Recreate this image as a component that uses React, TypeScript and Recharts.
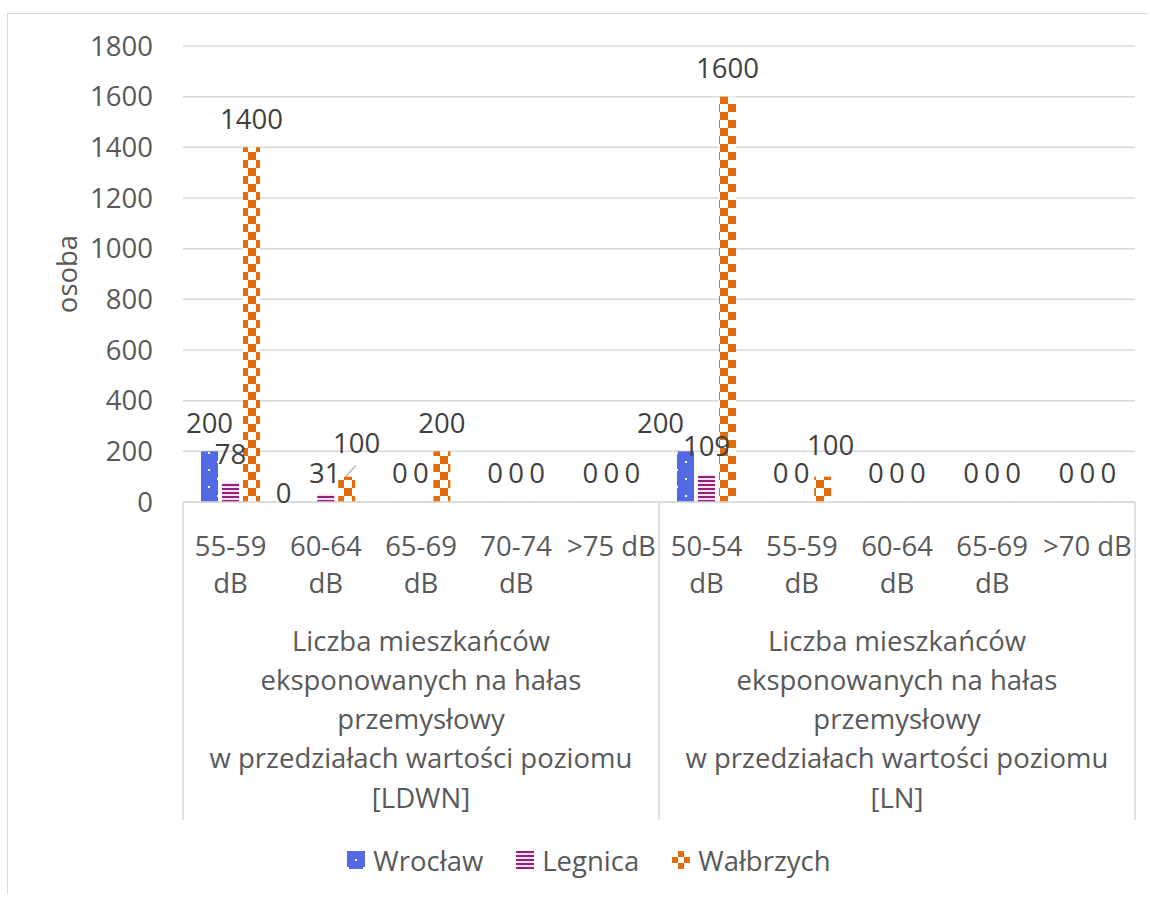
import React from 'react';
import { BarChart, Bar, XAxis, YAxis, CartesianGrid, LabelList, Legend } from 'recharts';

const categories = ['55-59 dB', '60-64 dB', '65-69 dB', '70-74 dB', '>75 dB', '50-54 dB', '55-59 dB', '60-64 dB', '65-69 dB', '>70 dB'];
const wroclaw = [200, 0, 0, 0, 0, 200, 0, 0, 0, 0];
const legnica = [78, 31, 0, 0, 0, 109, 0, 0, 0, 0];
const walbrzych = [1400, 100, 200, 0, 0, 1600, 100, 0, 0, 0];
const yTicks = [0, 200, 400, 600, 800, 1000, 1200, 1400, 1600, 1800];
const groupTitleLines = ['Liczba mieszkańców', 'eksponowanych na hałas', 'przemysłowy', 'w przedziałach wartości poziomu'];
const groupUnits = ['[LDWN]', '[LN]'];
const seriesNames = ['Wrocław', 'Legnica', 'Wałbrzych'];
const seriesKeys = ['wroclaw', 'legnica', 'walbrzych'];
const patternIds = ['pWro', 'pLeg', 'pWal'];

// label displacement (style only), mimicking the original's collision avoidance
const labelNudges: Record<string, { dx: number; dy: number; leader?: boolean }> = {
  'wroclaw-1': { dx: -21, dy: 20 },
  'legnica-1': { dx: -1, dy: 7 },
  'walbrzych-1': { dx: 10, dy: -5, leader: true },
  'wroclaw-5': { dx: -25, dy: 0 },
  'walbrzych-6': { dx: 8, dy: -3 },
};

const data = categories.map((c, i) => ({
  key: 'c' + i,
  label: c,
  wroclaw: wroclaw[i],
  legnica: legnica[i],
  walbrzych: walbrzych[i],
}));

const FONT = '"Open Sans", sans-serif';
const AXIS_COLOR = '#595959';
const LABEL_COLOR = '#404040';
const GRID = '#d9d9d9';
const FS = 27.5;

function splitLabel(s: string): string[] {
  if (s.startsWith('>')) return [s];
  const idx = s.indexOf(' ');
  return idx > 0 ? [s.slice(0, idx), s.slice(idx + 1)] : [s];
}

function CatTick(props: any) {
  const { x, y, payload } = props;
  const i: number = props.index ?? payload.index ?? 0;
  const off: number = payload.offset ?? 0;
  const lines = splitLabel(categories[i]);
  const groupIdx = i === 2 ? 0 : i === 7 ? 1 : -1;
  const gLines = groupIdx >= 0 ? [...groupTitleLines, groupUnits[groupIdx]] : [];
  return (
    <g>
      {lines.map((l, k) => (
        <text key={k} x={x} y={y + 43 + k * 37} textAnchor="middle" dominantBaseline="central" fill={AXIS_COLOR} fontSize={FS} fontFamily={FONT}>
          {l}
        </text>
      ))}
      {(i === 0 || i === 5) && <line x1={x - off} x2={x - off} y1={y} y2={y + 318} stroke={GRID} strokeWidth={1.5} />}
      {i === 9 && <line x1={x + off} x2={x + off} y1={y} y2={y + 318} stroke={GRID} strokeWidth={1.5} />}
      {gLines.map((l, k) => (
        <text key={'g' + k} x={x} y={y + 138 + k * 39.3} textAnchor="middle" dominantBaseline="central" fill={AXIS_COLOR} fontSize={FS} fontFamily={FONT}>
          {l}
        </text>
      ))}
    </g>
  );
}

const makeValueLabel = (seriesKey: string) => (p: any) => {
  const { x, y, width, value, index } = p;
  const n = labelNudges[`${seriesKey}-${index}`] || { dx: 0, dy: 0 };
  const cx = Number(x) + Number(width) / 2;
  const top = Number(y);
  return (
    <g>
      {n.leader && <line x1={cx - 1} y1={top} x2={cx + 9} y2={top - 11} stroke="#a6a6a6" strokeWidth={1.2} />}
      <text x={cx + n.dx} y={top - 29 + n.dy} textAnchor="middle" dominantBaseline="central" fill={LABEL_COLOR} fontSize={FS} fontFamily={FONT}>
        {String(value)}
      </text>
    </g>
  );
};

const renderLegend = () => (
  <div style={{ display: 'flex', justifyContent: 'center', alignItems: 'center', height: 40, gap: 33, fontSize: FS, color: AXIS_COLOR, fontFamily: FONT }}>
    {seriesNames.map((n, i) => (
      <div key={n} style={{ display: 'flex', alignItems: 'center', gap: 8 }}>
        <svg width={18} height={18} style={{ display: 'block' }}>
          <rect x={0} y={0} width={18} height={18} fill={`url(#${patternIds[i]}L)`} />
        </svg>
        <span>{n}</span>
      </div>
    ))}
  </div>
);

const YLabel = (p: any) => {
  const vb = p.viewBox || { x: 43, y: 46, width: 140, height: 456 };
  const cx = vb.x + 23;
  const cy = vb.y + vb.height / 2;
  return (
    <text x={cx} y={cy} transform={`rotate(-90 ${cx} ${cy})`} textAnchor="middle" dominantBaseline="central" fill={AXIS_COLOR} fontSize={FS} fontFamily={FONT}>
      osoba
    </text>
  );
};

const Patterns = () => (
  <svg width={0} height={0} style={{ position: 'absolute', left: 0, top: 0 }}>
    <defs>
      <pattern id="pWro" patternUnits="userSpaceOnUse" width={18} height={17}>
        <rect width={18} height={17} fill="#5469e4" />
        <rect x={1} y={2} width={2} height={2} fill="#ffffff" />
        <rect x={10} y={10} width={2} height={2} fill="#ffffff" />
      </pattern>
      <pattern id="pLeg" patternUnits="userSpaceOnUse" width={4} height={4}>
        <rect width={4} height={4} fill="#f4e2ee" />
        <rect y={0} width={4} height={2} fill="#951f7c" />
      </pattern>
      <pattern id="pWal" patternUnits="userSpaceOnUse" width={16} height={16}>
        <rect width={16} height={16} fill="#ffffff" />
        <rect x={0} y={0} width={8} height={8} fill="#e46c0a" />
        <rect x={8} y={8} width={8} height={8} fill="#e46c0a" />
      </pattern>
      <pattern id="pWroL" patternUnits="userSpaceOnUse" width={18} height={18}>
        <rect width={18} height={18} fill="#5469e4" />
        <rect x={0} y={16} width={2} height={2} fill="#ffffff" />
        <rect x={8} y={8} width={2} height={2} fill="#ffffff" />
        <rect x={16} y={16} width={2} height={2} fill="#ffffff" />
      </pattern>
      <pattern id="pLegL" patternUnits="userSpaceOnUse" width={4} height={4}>
        <rect width={4} height={4} fill="#f4e2ee" />
        <rect y={0} width={4} height={2} fill="#951f7c" />
      </pattern>
      <pattern id="pWalL" patternUnits="userSpaceOnUse" width={18} height={18}>
        <rect width={18} height={18} fill="#ffffff" />
        <rect x={6} y={0} width={6} height={6} fill="#e46c0a" />
        <rect x={0} y={6} width={6} height={6} fill="#e46c0a" />
        <rect x={12} y={6} width={6} height={6} fill="#e46c0a" />
        <rect x={6} y={12} width={6} height={6} fill="#e46c0a" />
      </pattern>
    </defs>
  </svg>
);

export default function App() {
  return (
    <div style={{ position: 'absolute', left: 0, top: 0, width: 1150, height: 897, overflow: 'hidden', background: '#ffffff', fontFamily: FONT }}>
      <div style={{ position: 'absolute', left: 7, top: 13, width: 1140, height: 880, borderTop: `1px solid ${GRID}`, borderLeft: `1px solid ${GRID}` }} />
      <Patterns />
      <div style={{ position: 'absolute', left: 0, top: 0 }}>
        <BarChart width={1150} height={897} data={data} margin={{ top: 46, right: 15, left: 43, bottom: 17 }} barGap={4}>
          <CartesianGrid vertical={false} stroke={GRID} strokeWidth={1.5} />
          <XAxis
            dataKey="key"
            interval={0}
            tickLine={false}
            tickSize={0}
            tickMargin={0}
            axisLine={{ stroke: GRID, strokeWidth: 1.5 }}
            height={338}
            tick={<CatTick />}
          />
          <YAxis
            domain={[0, 1800]}
            ticks={yTicks}
            width={140}
            tickLine={false}
            axisLine={false}
            tickSize={0}
            tickMargin={30}
            tick={{ fill: AXIS_COLOR, fontSize: FS, fontFamily: FONT }}
            label={<YLabel />}
          />
          <Legend verticalAlign="bottom" content={renderLegend} />
          {seriesKeys.map((k, i) => (
            <Bar key={k} dataKey={k} name={seriesNames[i]} fill={`url(#${patternIds[i]})`} barSize={17} minPointSize={0.1} isAnimationActive={false}>
              <LabelList dataKey={k} content={makeValueLabel(k)} />
            </Bar>
          ))}
        </BarChart>
      </div>
    </div>
  );
}
